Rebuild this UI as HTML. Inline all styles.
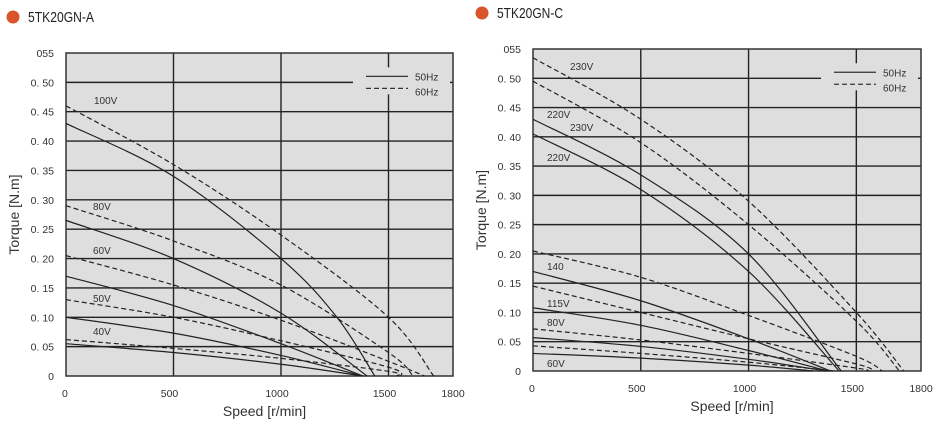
<!DOCTYPE html>
<html><head><meta charset="utf-8"><style>
html,body{margin:0;padding:0;background:#fff;}
svg{display:block;font-family:"Liberation Sans",sans-serif;}
</style></head><body>
<svg id="s" width="941" height="427" viewBox="0 0 941 427" xmlns="http://www.w3.org/2000/svg">
<circle cx="13" cy="17" r="6.5" fill="#d9532b"/>
<text x="28" y="22" font-size="15" fill="#222" textLength="66" lengthAdjust="spacingAndGlyphs">5TK20GN-A</text>
<circle cx="482" cy="13" r="6.5" fill="#d9532b"/>
<text x="497" y="18" font-size="15" fill="#222" textLength="66" lengthAdjust="spacingAndGlyphs">5TK20GN-C</text>
<g id="c1"></g><g id="c2"></g>
</svg>
<script>
function chart(g,X0,X1,Y0,Y1,curves,labels){
 var h="";
 function px(s){return X0+(X1-X0)*s/1800;}
 function py(t){return Y1-(Y1-Y0)*t/0.55;}
 h+='<rect x="'+X0+'" y="'+Y0+'" width="'+(X1-X0)+'" height="'+(Y1-Y0)+'" fill="#dedede"/>';
 for(var i=1;i<11;i++){var y=py(i*0.05);h+='<line x1="'+X0+'" x2="'+X1+'" y1="'+y+'" y2="'+y+'" stroke="#222" stroke-width="1.4"/>';}
 [500,1000,1500].forEach(function(s){h+='<line x1="'+px(s)+'" x2="'+px(s)+'" y1="'+Y0+'" y2="'+Y1+'" stroke="#222" stroke-width="1.4"/>';});
 var lx=X1-100,ly=py(0.5)-18;
 h+='<rect x="'+(lx)+'" y="'+(ly+3)+'" width="97" height="27" fill="#dedede"/>';
 h+='<rect x="'+X0+'" y="'+Y0+'" width="'+(X1-X0)+'" height="'+(Y1-Y0)+'" fill="none" stroke="#333" stroke-width="1.5"/>';
 h+='<line x1="'+(lx+13)+'" x2="'+(lx+55)+'" y1="'+(ly+12)+'" y2="'+(ly+12)+'" stroke="#333" stroke-width="1.2"/>';
 h+='<line x1="'+(lx+13)+'" x2="'+(lx+55)+'" y1="'+(ly+24)+'" y2="'+(ly+24)+'" stroke="#333" stroke-width="1.2" stroke-dasharray="5,3"/>';
 h+='<text x="'+(lx+62)+'" y="'+(ly+16)+'" font-size="10" fill="#333">50Hz</text>';
 h+='<text x="'+(lx+62)+'" y="'+(ly+31)+'" font-size="10" fill="#333">60Hz</text>';
 curves.forEach(function(c){
  var p=c.p.map(function(q){return [px(q[0]),py(q[1])];});
  var d="M"+p[0][0]+","+p[0][1];
  for(var i=0;i<p.length-1;i++){
   var a=p[i-1]||p[i],b=p[i],e=p[i+1],f=p[i+2]||e;
   d+=" C"+(b[0]+(e[0]-a[0])/6)+","+(b[1]+(e[1]-a[1])/6)+" "+(e[0]-(f[0]-b[0])/6)+","+(e[1]-(f[1]-b[1])/6)+" "+e[0]+","+e[1];
  }
  h+='<path d="'+d+'" fill="none" stroke="#222" stroke-width="1.2"'+(c.d?' stroke-dasharray="5,3"':'')+'/>';
 });
 var yl=["0","0. 05","0. 10","0. 15","0. 20","0. 25","0. 30","0. 35","0. 40","0. 45","0. 50","055"];
 yl.forEach(function(t,i){h+='<text x="'+(X0-12)+'" y="'+(py(i*0.05)+4)+'" font-size="10.5" fill="#333" text-anchor="end">'+t+'</text>';});
 [[0,"0"],[500,"500"],[1000,"1000"],[1500,"1500"],[1800,"1800"]].forEach(function(q){h+='<text x="'+(px(q[0])-(q[0]==1800?0:4))+'" y="'+(Y1+21)+'" font-size="10.5" fill="#333" text-anchor="'+(q[0]==0?"start":"middle")+'">'+q[1]+'</text>';});
 h+='<text x="'+((X0+X1)/2+5)+'" y="'+(Y1+40)+'" font-size="14" fill="#333" text-anchor="middle">Speed [r/min]</text>';
 h+='<text transform="translate('+(X0-47)+','+((Y0+Y1)/2)+') rotate(-90)" font-size="14" fill="#333" text-anchor="middle">Torque [N.m]</text>';
 labels.forEach(function(l){h+='<text x="'+l[0]+'" y="'+l[1]+'" font-size="10" fill="#333">'+l[2]+'</text>';});
 document.getElementById(g).innerHTML=h;
}
chart("c1",66,453,53,376,[
 {p:[[0,0.43],[500,0.34],[1000,0.20],[1260,0.10],[1436,0]]},
 {d:1,p:[[0,0.46],[500,0.36],[1000,0.24],[1500,0.10],[1710,0]]},
 {p:[[0,0.265],[500,0.20],[1000,0.107],[1400,0]]},
 {d:1,p:[[0,0.29],[500,0.23],[1000,0.155],[1500,0.04],[1614,0]]},
 {p:[[0,0.17],[500,0.12],[1000,0.055],[1380,0]]},
 {d:1,p:[[0,0.205],[500,0.155],[1000,0.095],[1500,0.025],[1668,0]]},
 {p:[[0,0.10],[500,0.073],[1000,0.035],[1380,0]]},
 {d:1,p:[[0,0.13],[500,0.10],[1000,0.06],[1500,0.015],[1560,0]]},
 {p:[[0,0.055],[500,0.04],[1000,0.02],[1380,0]]},
 {d:1,p:[[0,0.062],[500,0.047],[1000,0.03],[1500,0.008],[1540,0]]}
],[[94,104,"100V"],[93,210,"80V"],[93,254,"60V"],[93,302,"50V"],[93,335,"40V"]]);
chart("c2",533,921,49,371,[
 {d:1,p:[[0,0.535],[500,0.43],[1000,0.29],[1500,0.10],[1720,0]]},
 {d:1,p:[[0,0.495],[500,0.39],[1000,0.25],[1500,0.085],[1700,0]]},
 {p:[[0,0.43],[500,0.335],[1000,0.20],[1430,0]]},
 {p:[[0,0.405],[500,0.31],[1000,0.17],[1420,0]]},
 {d:1,p:[[0,0.205],[500,0.16],[1000,0.095],[1500,0.025],[1620,0]]},
 {p:[[0,0.17],[500,0.12],[1000,0.055],[1380,0]]},
 {d:1,p:[[0,0.145],[500,0.10],[1000,0.055],[1500,0.012],[1580,0]]},
 {p:[[0,0.108],[500,0.078],[1000,0.035],[1370,0]]},
 {d:1,p:[[0,0.072],[500,0.053],[1000,0.03],[1500,0.005],[1550,0]]},
 {p:[[0,0.057],[500,0.042],[1000,0.02],[1360,0]]},
 {d:1,p:[[0,0.043],[500,0.03],[1000,0.015],[1400,0]]},
 {p:[[0,0.03],[500,0.022],[1000,0.01],[1300,0]]}
],[[570,70,"230V"],[547,118,"220V"],[570,131,"230V"],[547,161,"220V"],[547,270,"140"],[547,307,"115V"],[547,326,"80V"],[547,367,"60V"]]);
</script>
</body></html>
